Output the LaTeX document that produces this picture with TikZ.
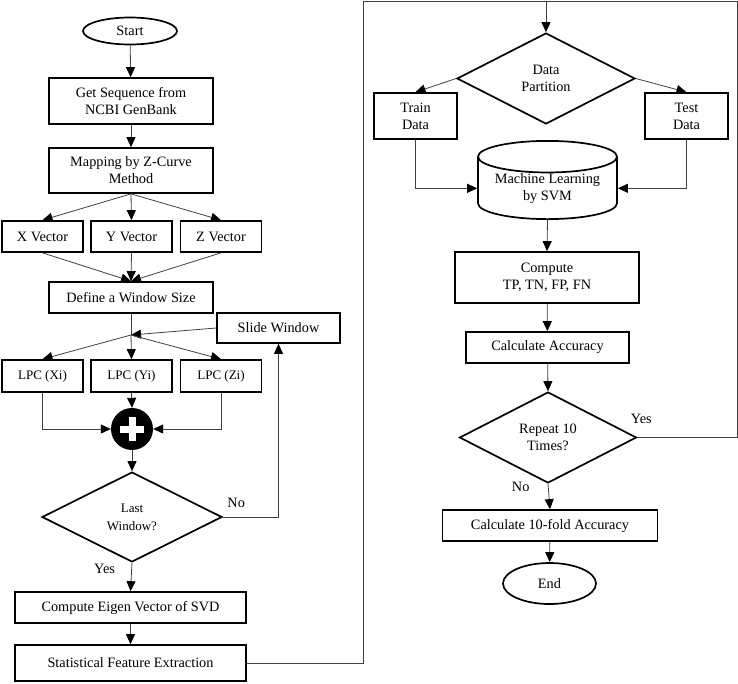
\documentclass[tikz,border=0pt]{standalone}
\usepackage{fontspec}
\setmainfont{Liberation Serif}
\usetikzlibrary{shapes,arrows.meta,positioning}

\begin{document}
\begin{tikzpicture}[x=1pt,y=-1pt]
    \tikzstyle{every node}=[font=\fontsize{14.3}{17}\selectfont]
    \tikzstyle{box}=[draw,line width=1.7pt,align=center,inner sep=0pt,minimum height=31pt]
    \tikzstyle{decision}=[diamond,draw,line width=1.7pt,align=center,inner sep=0pt,minimum width=180pt,minimum height=90pt]
    \tikzstyle{terminal}=[ellipse,draw,line width=1.7pt,inner sep=0pt]
    \tikzstyle{line}=[draw=black!75,line width=0.8pt]
    \tikzstyle{arrow}=[line,-{Triangle[length=10pt,width=9pt,color=black]}]
    \tikzstyle{small}=[font=\fontsize{13}{18}\selectfont]

\useasboundingbox (0,0) rectangle (738,683);

% Extraction des caracteristiques
\node[terminal,minimum width=94pt,minimum height=27pt] (start) at (130,31) {Start};
\node[box,minimum width=164pt,minimum height=46pt] (seq) at (131,101) {Get Sequence from\\NCBI GenBank};
\node[box,minimum width=164pt,minimum height=45pt] (map) at (131,170.5) {Mapping by Z-Curve\\Method};

\node[box,minimum width=81pt] (xv) at (42.5,236.5) {X Vector};
\node[box,minimum width=81pt] (yv) at (131.5,236.5) {Y Vector};
\node[box,minimum width=81pt] (zv) at (221,236.5) {Z Vector};

\node[box,minimum width=164pt] (win) at (131,297.5) {Define a Window Size};
\node[box,minimum width=123pt,minimum height=30pt] (slide) at (278.5,328) {Slide Window};
\coordinate (j) at (131,335);

\node[box,small,minimum width=81pt,minimum height=32pt] (lx) at (42.5,376) {LPC (Xi)};
\node[box,small,minimum width=81pt,minimum height=32pt] (ly) at (131.5,376) {LPC (Yi)};
\node[box,small,minimum width=81pt,minimum height=32pt] (lz) at (221,376) {LPC (Zi)};

\node[circle,fill=black,minimum size=42pt,inner sep=0pt] (plus) at (132,429) {};
\draw[white,line width=7pt] ([xshift=-12pt]plus.center) -- ([xshift=12pt]plus.center);
\draw[white,line width=7pt] ([yshift=-12pt]plus.center) -- ([yshift=12pt]plus.center);

\node[decision,small] (last) at (132,517) {Last\\Window?};
\node[box,minimum width=231pt] (eig) at (130.5,607.5) {Compute Eigen Vector of SVD};
\node[box,minimum width=231pt,minimum height=36pt] (stat) at (130.5,663) {Statistical Feature Extraction};

% Classification
\node[decision,minimum width=178pt,minimum height=91pt] (part) at (546,78.5) {Data\\Partition};
\node[box,minimum width=83pt,minimum height=46pt] (train) at (415.5,116) {Train\\Data};
\node[box,minimum width=83pt,minimum height=46pt] (test) at (686.5,116) {Test\\Data};
\node[cylinder,shape border rotate=90,aspect=0.3,draw,line width=1.7pt,align=center,
      inner sep=0pt,minimum width=139pt,minimum height=76pt,anchor=shape center] (svm) at (547.5,180) {Machine Learning\\by SVM};
\node[box,minimum width=184pt,minimum height=51pt] (comp) at (547,277.5) {Compute\\TP, TN, FP, FN};
\node[box,minimum width=163pt] (acc) at (547.5,347.5) {Calculate Accuracy};
\node[decision,minimum width=177pt,minimum height=91pt] (rep) at (548,437.5) {Repeat 10\\Times?};
\node[box,minimum width=215pt] (fold) at (550,525.5) {Calculate 10-fold Accuracy};
\node[terminal,minimum width=93pt,minimum height=41pt] (end) at (549.5,583.5) {End};

\coordinate (tl) at (363,1);
\coordinate (tr) at (737,1);

% Fleches
\draw[arrow] (start) -- (seq);
\draw[arrow] (seq) -- (map);
\draw[arrow] (map.south) -- (xv.north);
\draw[arrow] (map.south) -- (yv.north);
\draw[arrow] (map.south) -- (zv.north);
\draw[arrow] (xv.south) -- (win.north);
\draw[arrow] (yv.south) -- (win.north);
\draw[arrow] (zv.south) -- (win.north);
\draw[line] (win.south) -- (j);
\draw[arrow] (slide.west) -- (j);
\draw[arrow] (j) -- (lx.north);
\draw[arrow] (j) -- (ly.north);
\draw[arrow] (j) -- (lz.north);
\draw[arrow] (lx.south) |- (plus.west);
\draw[arrow] (lz.south) |- (plus.east);
\draw[arrow] (ly.south) -- (plus.north);
\draw[arrow] (plus.south) -- (last.north);
\draw[arrow] (last.east) -| node[pos=0.12,above=6pt] {No} (slide.south);
\draw[arrow] (last.south) -- node[pos=0.2,left=13pt] {Yes} (eig.north);
\draw[arrow] (eig) -- (stat);
\draw[line] (stat.east) -| (tl) -- (tr);
\draw[arrow] (part.north |- tl) -- (part.north);

\draw[arrow] (part.west) -- (train.north);
\draw[arrow] (part.east) -- (test.north);
\draw[arrow] (train.south) |- (svm.west);
\draw[arrow] (test.south) |- (svm.east);
\draw[arrow] (svm.south) -- (comp.north);
\draw[arrow] (comp) -- (acc);
\draw[arrow] (acc) -- (rep.north);
\draw[line] (rep.east) -| node[pos=0.02,above=10pt] {Yes} (tr);
\draw[arrow] (rep.south) -- node[pos=0.1,left=15pt] {No} (fold.north);
\draw[arrow] (fold) -- (end);

\end{tikzpicture}
\end{document}
